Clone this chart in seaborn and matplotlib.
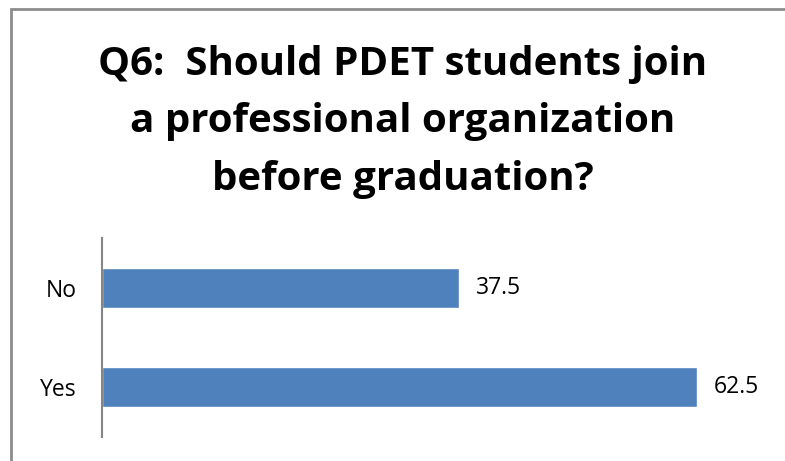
import matplotlib
matplotlib.use("Agg")
import matplotlib.pyplot as plt
import seaborn as sns
import pandas as pd
from matplotlib.patches import Rectangle

categories = ["No", "Yes"]
values = [37.5, 62.5]
title_lines = ["Q6:  Should PDET students join",
               "a professional organization",
               "before graduation?"]

sns.set_theme(style="white")
plt.rcParams["font.family"] = ["Open Sans", "DejaVu Sans"]

df = pd.DataFrame({"answer": categories, "percent": values})

W, H = 785, 461
fig = plt.figure(figsize=(W / 100, H / 100), dpi=100)
ax = fig.add_axes([102 / W, 1 - 437 / H, (768 - 102) / W, (437 - 238) / H])

sns.barplot(data=df, x="percent", y="answer", orient="h", color="#4F81BD",
            saturation=1, width=0.4, ax=ax)

ax.set_xlim(0, 70)
ax.set_ylim(1.5, -0.5)
ax.set_xlabel("")
ax.set_ylabel("")
ax.set_xticks([])
ax.tick_params(axis="y", length=0, pad=18, labelsize=16.5, labelcolor="black")
for side in ("top", "right", "bottom"):
    ax.spines[side].set_visible(False)
ax.spines["left"].set_color("#868686")
ax.spines["left"].set_linewidth(1.5)

for cont in ax.containers:
    ax.bar_label(cont, labels=[f"{v:g}" for v in values], padding=12,
                 fontsize=16.5, color="black")

# three-line bold title, baselines in pixel rows
for line, base in zip(title_lines, [75, 132, 190]):
    fig.text(403 / W, 1 - base / H, line, ha="center", va="baseline",
             fontsize=29, fontweight="bold", color="black")

# outer chart frame
fig.patches.append(Rectangle((11 / W, -0.1), 1.0, 1 - 9 / H + 0.1,
                             transform=fig.transFigure, fill=False,
                             edgecolor="#8C8C8C", linewidth=2))

fig.savefig("out.png", dpi=100)
